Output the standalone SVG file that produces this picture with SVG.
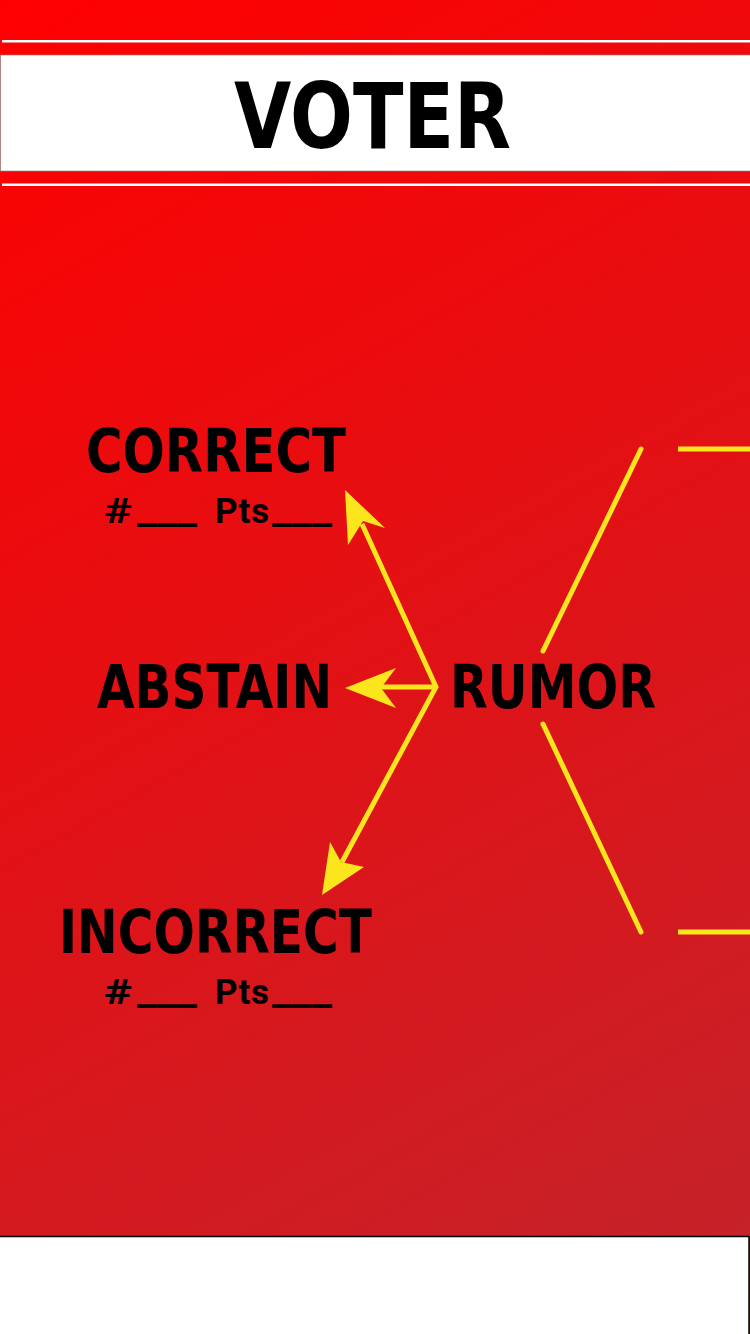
<svg xmlns="http://www.w3.org/2000/svg" width="750" height="1334" viewBox="0 0 750 1334">
<defs>
<linearGradient id="bg" x1="0" y1="0" x2="750" y2="1334" gradientUnits="userSpaceOnUse">
<stop offset="0" stop-color="#ff0000"/>
<stop offset="1" stop-color="#c2242c"/>
</linearGradient>
<style>
.title{font-family:"DejaVu Sans","Liberation Sans",sans-serif;font-weight:bold;fill:#000}
.pts{font-family:Roboto,"Liberation Sans",sans-serif;font-weight:bold;font-size:35px;fill:#000}
.y{stroke:#fbe61e;stroke-width:5;fill:none}
.yr{stroke:#fbe61e;stroke-width:5;fill:none;stroke-linecap:round}
.head{fill:#fbe61e}
</style>
</defs>
<rect x="0" y="0" width="750" height="1334" fill="url(#bg)"/>
<g id="header">
<rect x="2" y="40" width="748" height="2.5" fill="#fff"/>
<rect x="0.5" y="55" width="750" height="116" fill="#fff" stroke="#888" stroke-width="0.6"/>
<rect x="2" y="183.5" width="748" height="2.5" fill="#fff"/>
<text class="title" x="234" y="148" font-size="90" textLength="277" lengthAdjust="spacingAndGlyphs">VOTER</text>
</g>
<g id="footer">
<rect x="-1" y="1236.5" width="750" height="100" fill="#fff" stroke="#000" stroke-width="1.5"/>
</g>
<g id="correct">
<text class="title" x="86" y="472" font-size="60" textLength="260" lengthAdjust="spacingAndGlyphs">CORRECT</text>
<text class="pts" y="523"><tspan x="104" textLength="28" lengthAdjust="spacingAndGlyphs">#</tspan><tspan x="137" textLength="60" lengthAdjust="spacingAndGlyphs">___</tspan><tspan x="215" textLength="54" lengthAdjust="spacing">Pts</tspan><tspan x="272" textLength="60" lengthAdjust="spacingAndGlyphs">___</tspan></text>
</g>
<g id="abstain">
<text class="title" x="97" y="708" font-size="60" textLength="235" lengthAdjust="spacingAndGlyphs">ABSTAIN</text>
</g>
<g id="rumor">
<text class="title" x="450" y="708" font-size="60" textLength="206" lengthAdjust="spacingAndGlyphs">RUMOR</text>
</g>
<g id="incorrect">
<text class="title" x="59" y="953" font-size="60" textLength="313" lengthAdjust="spacingAndGlyphs">INCORRECT</text>
<text class="pts" y="1004"><tspan x="104" textLength="28" lengthAdjust="spacingAndGlyphs">#</tspan><tspan x="137" textLength="60" lengthAdjust="spacingAndGlyphs">___</tspan><tspan x="215" textLength="54" lengthAdjust="spacing">Pts</tspan><tspan x="272" textLength="60" lengthAdjust="spacingAndGlyphs">___</tspan></text>
</g>
<g id="connectors">
<polyline class="y" points="362,524 436,687 342,862"/>
<line class="y" x1="436" y1="687" x2="380" y2="687"/>
<polygon class="head" points="345,490 385,528 363,521 348,545"/>
<polygon class="head" points="345,688 396,668 381,688 396,708"/>
<polygon class="head" points="322,895 330,842 341,862 364,867"/>
<line class="yr" x1="543" y1="651" x2="641" y2="449"/>
<line class="yr" x1="543" y1="724" x2="641" y2="932"/>
<line class="y" x1="678" y1="449" x2="750" y2="449"/>
<line class="y" x1="678" y1="932" x2="750" y2="932"/>
</g>
</svg>
